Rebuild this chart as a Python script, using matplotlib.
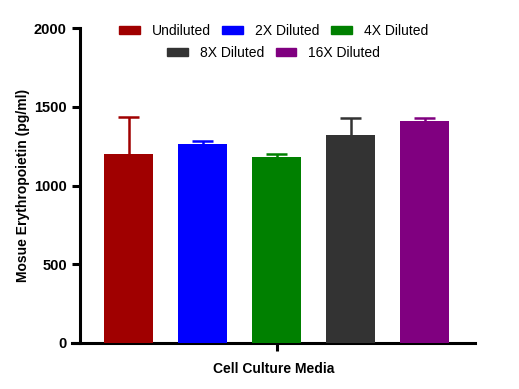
import matplotlib
matplotlib.use("Agg")
import matplotlib.pyplot as plt
from matplotlib.patches import Patch

plt.rcParams['font.family'] = ['Liberation Sans', 'DejaVu Sans']

# data
groups = ["Undiluted", "2X Diluted", "4X Diluted", "8X Diluted", "16X Diluted"]
means = [1200, 1263, 1181, 1321, 1410]
errors = [235, 17, 19, 108, 16]
colors = ["#A00000", "#0000FF", "#008000", "#333333", "#800080"]

fig = plt.figure(figsize=(5.19, 3.89), dpi=100)
W, H = 519, 389
ax = fig.add_axes([72 / W, (H - 343) / H, 403 / W, 315 / H])

xs = list(range(len(groups)))
ax.bar(xs, means, width=0.662, color=colors, zorder=3)
# upper error only (SD bars, GraphPad style)
tops = [m + e for m, e in zip(means, errors)]
ax.vlines(xs, means, tops, colors=colors, linewidth=1.8, zorder=2)
ax.hlines(tops, [x - 0.142 for x in xs], [x + 0.142 for x in xs],
          colors=colors, linewidth=1.8, zorder=2)

ax.set_xlim(-0.770, 4.682)
ax.set_ylim(0, 2000)
ax.set_yticks([0, 500, 1000, 1500, 2000])
ax.set_xticks([2])
ax.set_xticklabels([""])

for s in ["top", "right"]:
    ax.spines[s].set_visible(False)
ax.spines["left"].set_position(("axes", 8 / 403))
ax.spines["left"].set_linewidth(2.2)
ax.spines["bottom"].set_linewidth(2.2)
ax.tick_params(axis="both", width=2.2, length=6, labelsize=10.5)
for lab in ax.get_yticklabels():
    lab.set_fontweight("bold")

ax.set_ylabel("Mosue Erythropoietin (pg/ml)", fontsize=10, fontweight="bold", labelpad=3)
ax.set_xlabel("Cell Culture Media", fontsize=10, fontweight="bold", labelpad=4)

handles = [Patch(color=c, label=g) for g, c in zip(groups, colors)]
kw = dict(loc="center", frameon=False, fontsize=10, handlelength=1.5,
          handleheight=0.5, handletextpad=0.85, columnspacing=0.85, borderpad=0)
leg1 = ax.legend(handles=handles[:3], ncol=3, bbox_to_anchor=(0.5, 0.99), **kw)
ax.add_artist(leg1)
ax.legend(handles=handles[3:], ncol=2, bbox_to_anchor=(0.5, 0.92), **kw)

fig.savefig("out.png", dpi=100)
